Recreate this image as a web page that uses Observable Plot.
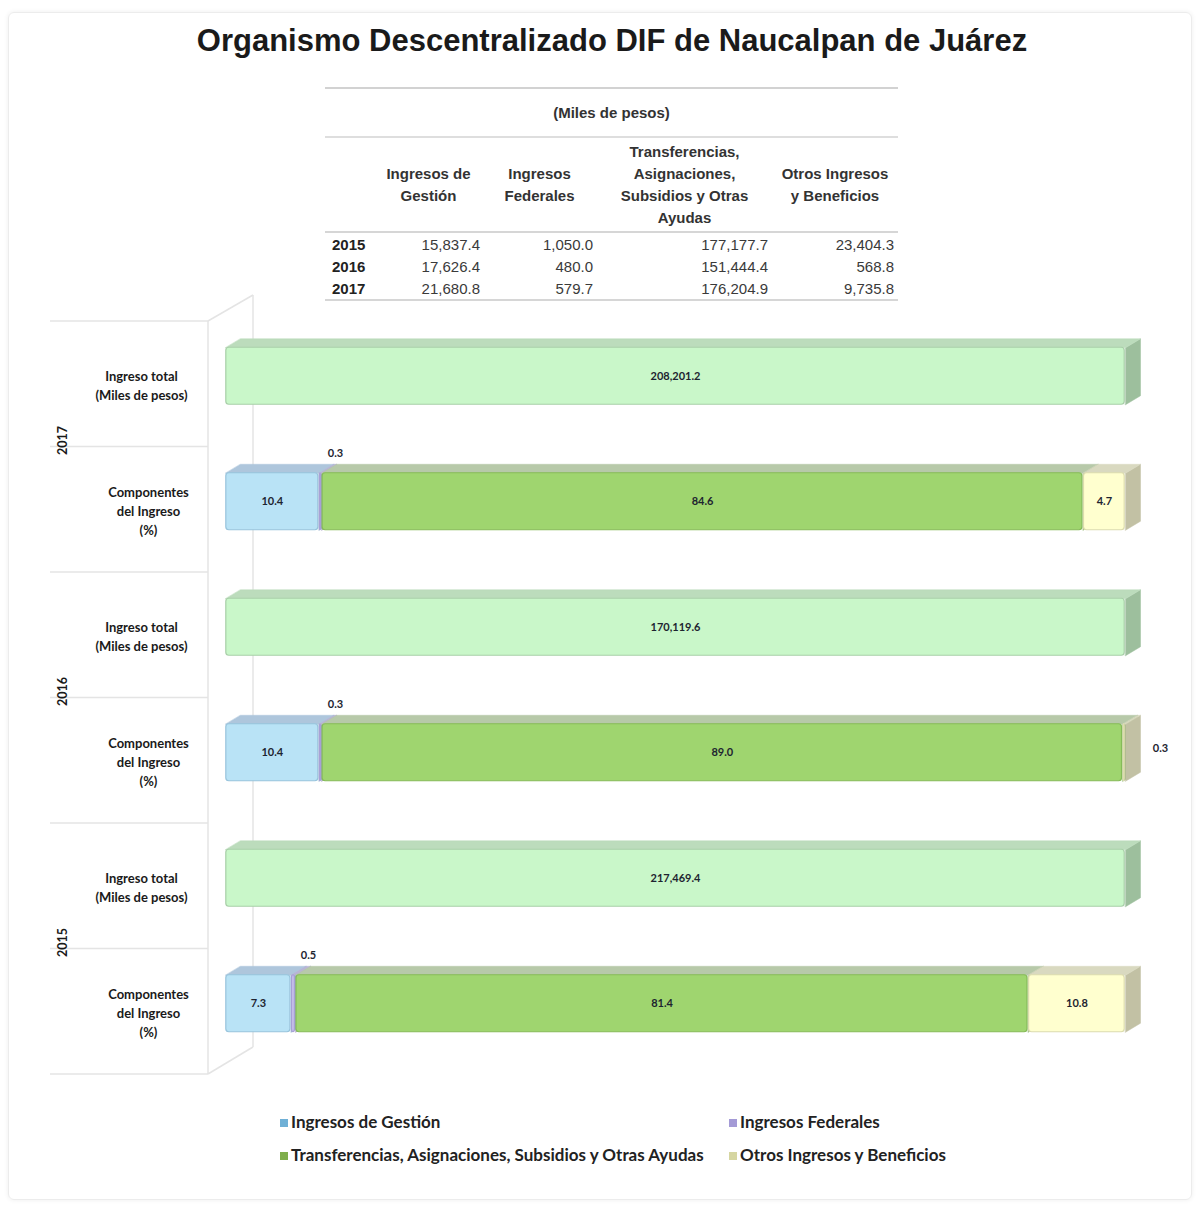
<!DOCTYPE html>
<html><head><meta charset="utf-8">
<script src="https://cdn.jsdelivr.net/npm/d3@7"></script>
<script src="https://cdn.jsdelivr.net/npm/@observablehq/plot@0.6"></script>
<style>
body{margin:0;background:#fff;}
#page{position:relative;width:1200px;height:1213px;overflow:hidden;font-family:"Liberation Sans",Arial,sans-serif;}
#frame{position:absolute;left:8px;top:12px;width:1182px;height:1186px;border:1px solid #ececec;border-radius:6px;box-shadow:0 0 5px rgba(0,0,0,0.07);}
#title{position:absolute;left:0;width:1224px;top:23px;text-align:center;font-weight:bold;font-size:31px;color:#1a1a1a;white-space:nowrap;}
#tbl{position:absolute;left:325px;top:87px;width:573px;border-collapse:collapse;font-size:15px;color:#3a3a3a;table-layout:fixed;}
#tbl td{padding:0;}
#tbl .hdr td{font-weight:bold;text-align:center;line-height:22px;vertical-align:middle;color:#333;}
#tbl .num{text-align:right;padding-right:4px;}
#tbl .yr{font-weight:bold;text-align:left;padding-left:7px;color:#222;}
#chart{position:absolute;left:0;top:290px;}
.leg{position:absolute;font-family:Lato,sans-serif;font-weight:bold;font-size:17px;color:#222;white-space:nowrap;line-height:20px;}
.leg i{display:inline-block;width:8px;height:8px;margin-right:3px;vertical-align:1px;}
</style></head>
<body><div id="page">
<div id="frame"></div>
<div id="title">Organismo Descentralizado DIF de Naucalpan de Juárez</div>
<table id="tbl"></table>
<div id="chart"></div>
<div id="legend"></div>
</div>
<script>
// ---------- data ----------
const years = ["2017", "2016", "2015"];
const totals = [208201.2, 170119.6, 217469.4];
const categories = ["Ingresos de Gestión", "Ingresos Federales", "Transferencias, Asignaciones, Subsidios y Otras Ayudas", "Otros Ingresos y Beneficios"];
const pct2017 = [10.4, 0.3, 84.6, 4.7];
const pct2016 = [10.4, 0.3, 89.0, 0.3];
const pct2015 = [7.3, 0.5, 81.4, 10.8];
const rowLabelTotal = "Ingreso total\n(Miles de pesos)";
const rowLabelComp = "Componentes\ndel Ingreso\n(%)";

const tableUnit = "(Miles de pesos)";
const tableHeaders = ["Ingresos de<br>Gestión", "Ingresos<br>Federales", "Transferencias,<br>Asignaciones,<br>Subsidios y Otras<br>Ayudas", "Otros Ingresos<br>y Beneficios"];
const tableYears = ["2015", "2016", "2017"];
const gestion = [15837.4, 17626.4, 21680.8];
const federales = [1050.0, 480.0, 579.7];
const transferencias = [177177.7, 151444.4, 176204.9];
const otros = [23404.3, 568.8, 9735.8];

// ---------- styles ----------
const totalStyle = {front: "#c9f7c9", top: "#bcdcbc", side: "#9dbf9d", edge: "#a9cfa9"};
const catStyles = [
  {front: "#b9e3f6", top: "#aec6dc", side: "#8fb0c8", edge: "#98c4dc", legend: "#6fb0d6"},
  {front: "#c6bfea", top: "#b9b3d6", side: "#a49dc6", edge: "#a8a0d6", legend: "#a49ad6"},
  {front: "#9fd56f", top: "#b7c9a9", side: "#8fb36e", edge: "#86bb58", legend: "#7fae4c"},
  {front: "#ffffcf", top: "#d9d9c0", side: "#c2c1a4", edge: "#dcdcae", legend: "#d6d6a2"}
];

// ---------- table ----------
const fmtT = d3.format(",.1f");
const tbl = document.getElementById("tbl");
let html = `<colgroup><col style="width:50px"><col style="width:107px"><col style="width:115px"><col style="width:175px"><col style="width:126px"></colgroup>`;
html += `<tr class="hdr" style="height:49px;border-top:2px solid #d2d2d2;border-bottom:2px solid #dedede"><td colspan="5">${tableUnit}</td></tr>`;
html += `<tr class="hdr" style="height:95px;border-bottom:2px solid #d6d6d6"><td></td>${tableHeaders.map(h => `<td>${h}</td>`).join("")}</tr>`;
tableYears.forEach((y, i) => {
  const last = i === tableYears.length - 1;
  html += `<tr style="height:${last ? 22 : 23}px;${last ? "border-bottom:2px solid #d6d6d6" : ""}"><td class="yr">${y}</td>` +
    `<td class="num" style="padding-right:2px">${fmtT(gestion[i])}</td><td class="num">${fmtT(federales[i])}</td>` +
    `<td class="num">${fmtT(transferencias[i])}</td><td class="num">${fmtT(otros[i])}</td></tr>`;
});
tbl.innerHTML = html;

// ---------- chart ----------
const W = 1200, H = 800, mL = 225, mR = 75, mT = 31, mB = 16;
const nRows = years.length * 2;
const pxX = 100 / (W - mL - mR);
const pxY = nRows / (H - mT - mB);
const depthX = 15 * pxX, depthY = 9 * pxY, half = 28.5 * pxY, off = -8 * pxY;

const pctByYear = [pct2017, pct2016, pct2015];
const fmtP = d3.format(".1f");
const segs = [];
years.forEach((yr, k) => {
  const sum = d3.sum(pctByYear[k]);
  segs.push({row: 2 * k, x1: 0, x2: sum, st: totalStyle, label: fmtT(totals[k]), small: false});
  let acc = 0;
  pctByYear[k].forEach((v, j) => {
    segs.push({row: 2 * k + 1, x1: acc, x2: acc + v, st: catStyles[j], label: fmtP(v), small: v < 1, last: j === pctByYear[k].length - 1});
    acc += v;
  });
});
segs.forEach(s => { s.yt = s.row + off - half; s.yb = s.row + off + half; });

const tops = segs.flatMap((s, id) => [[s.x1, s.yt], [s.x2, s.yt], [s.x2 + depthX, s.yt - depthY], [s.x1 + depthX, s.yt - depthY]]
  .map(([x, y]) => ({id, x, y, c: s.st.top})));
const sides = segs.flatMap((s, id) => [[s.x2, s.yt], [s.x2 + depthX, s.yt - depthY], [s.x2 + depthX, s.yb - depthY], [s.x2, s.yb]]
  .map(([x, y]) => ({id, x, y, c: s.st.side})));

const totalRows = years.map((y, k) => ({row: 2 * k, text: rowLabelTotal}));
const compRows = years.map((y, k) => ({row: 2 * k + 1, text: rowLabelComp}));

const font = "Lato, sans-serif";
const labelStyle = {fontWeight: "bold", fontSize: 11, fill: "#1d2430"};
const chart = Plot.plot({
  width: W, height: H, marginLeft: mL, marginRight: mR, marginTop: mT, marginBottom: mB,
  x: {domain: [0, 100], axis: null},
  y: {domain: [-0.5, nRows - 0.5], reverse: true, axis: null},
  color: {type: "identity"},
  style: {background: "transparent", fontFamily: font, overflow: "visible"},
  marks: [
    Plot.line(sides, {x: "x", y: "y", z: "id", fill: "c", stroke: "c", strokeWidth: 0.5, curve: "linear-closed"}),
    Plot.line(tops, {x: "x", y: "y", z: "id", fill: "c", stroke: "c", strokeWidth: 0.5, curve: "linear-closed"}),
    Plot.rect(segs, {x1: "x1", x2: "x2", y1: "yt", y2: "yb", fill: s => s.st.front, stroke: s => s.st.edge, strokeWidth: 1.2, rx: 3, insetLeft: 0.8, insetRight: 0.8}),
    Plot.text(segs.filter(s => !s.small), {x: s => (s.x1 + s.x2) / 2, y: s => s.row + off, text: "label", ...labelStyle}),
    Plot.text(segs.filter(s => s.small && !s.last), {x: s => (s.x1 + s.x2) / 2 + depthX, y: s => s.yt - depthY, dy: -11, text: "label", ...labelStyle}),
    Plot.text(segs.filter(s => s.small && s.last), {x: s => s.x2 + depthX, y: s => s.row + off - depthY / 2, dx: 20, text: "label", ...labelStyle}),
    Plot.text(totalRows, {frameAnchor: "left", y: "row", text: "text", dx: -84, textAnchor: "middle", lineHeight: 1.5, fontWeight: "bold", fontSize: 13, fill: "#1a1a1a"}),
    Plot.text(compRows, {frameAnchor: "left", y: "row", text: "text", dx: -77, textAnchor: "middle", lineHeight: 1.5, fontWeight: "bold", fontSize: 13, fill: "#1a1a1a"}),
    Plot.text(years, {frameAnchor: "left", y: (d, k) => 2 * k + 0.5, text: d => d, rotate: -90, dx: -163, dy: 8, fontWeight: "bold", fontSize: 12.5, fill: "#1a1a1a"})
  ]
});
document.getElementById("chart").appendChild(chart);

// faint 3D panel frame on the left (decoration derived from the y scale)
const yS = chart.scale("y");
const svg = d3.select(chart);
const g = svg.insert("g", ":first-child").attr("stroke", "#e4e4e4").attr("stroke-width", 1.5).attr("fill", "none");
const xFront = mL - 17, xBack = mL + 28, xOut = 50;
const yFirst = yS.apply(-0.5), yLast = yS.apply(nRows - 0.5);
d3.range(nRows + 1).forEach(k => {
  const y = yS.apply(k - 0.5);
  g.append("line").attr("x1", xOut).attr("x2", xFront).attr("y1", y).attr("y2", y);
});
g.append("line").attr("x1", xFront).attr("x2", xFront).attr("y1", yFirst).attr("y2", yLast);
g.append("line").attr("x1", xFront).attr("x2", xBack).attr("y1", yFirst).attr("y2", yFirst - 26);
g.append("line").attr("x1", xBack).attr("x2", xBack).attr("y1", yFirst - 26).attr("y2", yLast - 27);
g.append("line").attr("x1", xFront).attr("x2", xBack).attr("y1", yLast).attr("y2", yLast - 27);

// ---------- legend ----------
const legendPos = [[280, 1112], [729, 1112], [280, 1145], [729, 1145]];
const legend = document.getElementById("legend");
categories.forEach((c, j) => {
  const d = document.createElement("div");
  d.className = "leg";
  d.style.left = legendPos[j][0] + "px";
  d.style.top = legendPos[j][1] + "px";
  d.innerHTML = `<i style="background:${catStyles[j].legend}"></i>${c}`;
  legend.appendChild(d);
});
</script>
</body></html>
